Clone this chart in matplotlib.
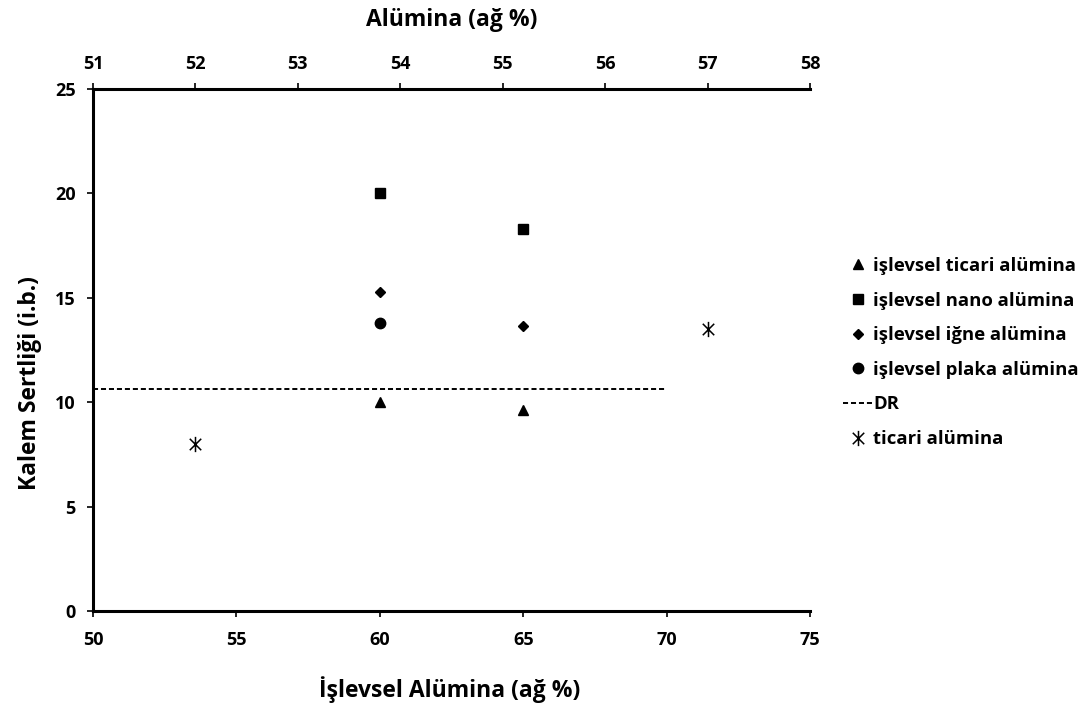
import matplotlib
matplotlib.use("Agg")
import matplotlib.pyplot as plt
from matplotlib.path import Path

plt.rcParams['font.family'] = ['Open Sans', 'DejaVu Sans']
plt.rcParams['font.weight'] = 'bold'

# Functional alumina content (bottom axis) and pencil hardness
func_x = [60, 65]
ticari_func = [10.0, 9.63]
nano_func = [20.0, 18.3]
igne_func = [15.3, 13.65]
plaka_func = [13.8]
plaka_x = [60]

# Reference line
dr_x = [50, 70]
dr_y = [10.65, 10.65]

# Commercial alumina (top axis)
ticari_x = [52, 57]
ticari_y = [8.0, 13.5]

bottom_ticks = [50, 55, 60, 65, 70, 75]
left_ticks = [0, 5, 10, 15, 20, 25]
top_ticks = [51, 52, 53, 54, 55, 56, 57, 58]

# Asterisk marker: vertical bar crossed by an X
star = Path([(0, -1), (0, 1), (-0.75, -0.75), (0.75, 0.75), (-0.75, 0.75), (0.75, -0.75)],
            [Path.MOVETO, Path.LINETO, Path.MOVETO, Path.LINETO, Path.MOVETO, Path.LINETO])

fig = plt.figure(figsize=(10.86, 7.04), dpi=100)
ax = fig.add_axes([0.0856, 0.1321, 0.6603, 0.7415])

ax.plot(func_x, ticari_func, linestyle='none', marker='^', ms=7, color='black', label='işlevsel ticari alümina')
ax.plot(func_x, nano_func, linestyle='none', marker='s', ms=7, color='black', label='işlevsel nano alümina')
ax.plot(func_x, igne_func, linestyle='none', marker='D', ms=5.5, color='black', label='işlevsel iğne alümina')
ax.plot(plaka_x, plaka_func, linestyle='none', marker='o', ms=7.5, color='black', label='işlevsel plaka alümina')
ax.plot(dr_x, dr_y, linestyle=(0, (2.6, 1.5)), lw=1.4, color='black', label='DR')

ax.set_xlim(50, 75)
ax.set_ylim(0, 25)
ax.set_xticks(bottom_ticks)
ax.set_yticks(left_ticks)
ax.spines['right'].set_visible(False)
ax.spines['top'].set_visible(False)
for s in ['left', 'bottom']:
    ax.spines[s].set_linewidth(2.2)
ax.tick_params(axis='both', direction='out', length=4.5, width=1.2, labelsize=13, pad=8)
ax.tick_params(axis='x', pad=10)
for lab in ax.get_xticklabels() + ax.get_yticklabels():
    lab.set_fontweight('bold')

ax.set_xlabel('İşlevsel Alümina (ağ %)', fontsize=16.5, fontweight='bold')
ax.set_ylabel('Kalem Sertliği (i.b.)', fontsize=16.5, fontweight='bold')
ax.xaxis.set_label_coords(0.497, -0.124)
ax.yaxis.set_label_coords(-0.071, 0.437)

ax2 = ax.twiny()
ax2.plot(ticari_x, ticari_y, linestyle='none', marker=star, ms=11, mew=1.1,
         color='black', label='ticari alümina')
ax2.set_xlim(51, 58)
ax2.set_xticks(top_ticks)
for s in ['left', 'right', 'bottom']:
    ax2.spines[s].set_visible(False)
ax2.spines['top'].set_linewidth(2.2)
ax2.tick_params(axis='x', direction='out', length=4.5, width=1.2, labelsize=13, pad=7)
for lab in ax2.get_xticklabels():
    lab.set_fontweight('bold')
ax2.set_xlabel('Alümina (ağ %)', fontsize=16.5, fontweight='bold')
ax2.xaxis.set_label_coords(0.5, 1.121)

h1, l1 = ax.get_legend_handles_labels()
h2, l2 = ax2.get_legend_handles_labels()
leg = fig.legend(h1 + h2, l1 + l2, loc='upper left', bbox_to_anchor=(0.776, 0.635),
                 frameon=False, fontsize=13.3, handlelength=1.6, handletextpad=0.05,
                 labelspacing=0.9, borderaxespad=0, borderpad=0)
for t in leg.get_texts():
    t.set_fontweight('bold')

fig.savefig('out.png', dpi=100)
